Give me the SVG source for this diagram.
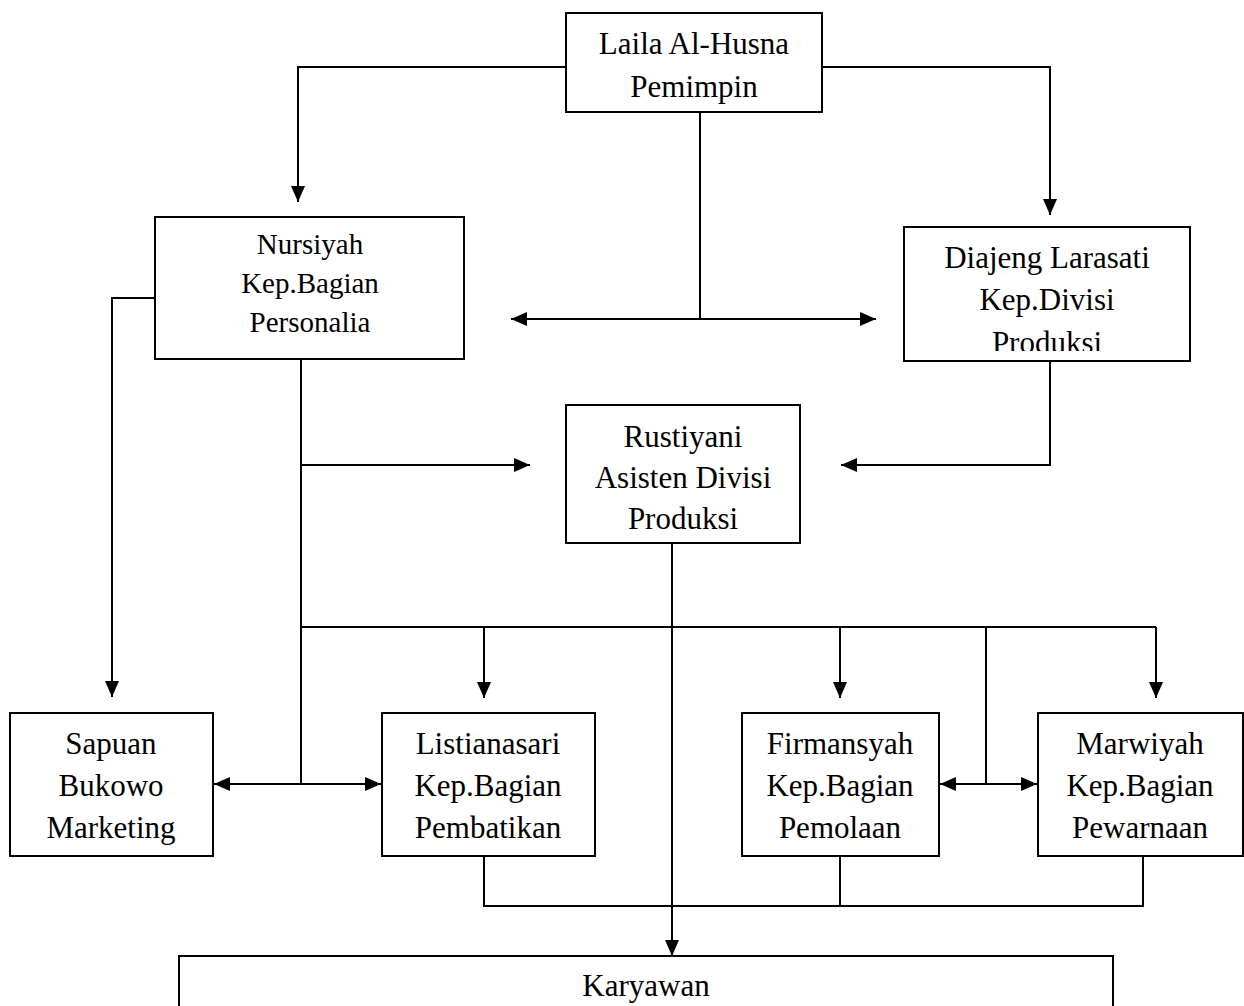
<svg xmlns="http://www.w3.org/2000/svg" width="1244" height="1006" viewBox="0 0 1244 1006">
<style>
.box{fill:#fff;stroke:#000;stroke-width:2}
.t{font-family:"Liberation Serif","Times New Roman",serif;font-size:31px;fill:#000;text-anchor:middle}
.s{font-size:29px}
.c{fill:none;stroke:#000;stroke-width:2}
</style>
<defs>
<marker id="ah" markerUnits="userSpaceOnUse" markerWidth="16" markerHeight="14" refX="16" refY="7" orient="auto-start-reverse">
<path d="M0,0 L16,7 L0,14 Z" fill="#000"/>
</marker>
<clipPath id="clipD"><rect x="904" y="227" width="286" height="124"/></clipPath>
</defs>
<rect width="1244" height="1006" fill="#fff"/>
<g id="connectors">
<polyline class="c" points="566,67 298,67 298,202" marker-end="url(#ah)"/>
<polyline class="c" points="822,67 1050,67 1050,215" marker-end="url(#ah)"/>
<line class="c" x1="700" y1="112" x2="700" y2="319"/>
<line class="c" x1="511" y1="319" x2="876" y2="319" marker-start="url(#ah)" marker-end="url(#ah)"/>
<polyline class="c" points="155,298 112,298 112,697" marker-end="url(#ah)"/>
<line class="c" x1="301" y1="359" x2="301" y2="784"/>
<line class="c" x1="301" y1="465" x2="530" y2="465" marker-end="url(#ah)"/>
<polyline class="c" points="1050,362 1050,465 841,465" marker-end="url(#ah)"/>
<line class="c" x1="301" y1="627" x2="1156" y2="627"/>
<line class="c" x1="484" y1="627" x2="484" y2="698" marker-end="url(#ah)"/>
<line class="c" x1="840" y1="627" x2="840" y2="698" marker-end="url(#ah)"/>
<line class="c" x1="1156" y1="627" x2="1156" y2="698" marker-end="url(#ah)"/>
<line class="c" x1="986" y1="627" x2="986" y2="784"/>
<line class="c" x1="940" y1="784" x2="1037" y2="784" marker-start="url(#ah)" marker-end="url(#ah)"/>
<line class="c" x1="214" y1="784" x2="381" y2="784" marker-start="url(#ah)" marker-end="url(#ah)"/>
<line class="c" x1="672" y1="543" x2="672" y2="956" marker-end="url(#ah)"/>
<polyline class="c" points="484,856 484,906 1143,906 1143,856"/>
<line class="c" x1="840" y1="856" x2="840" y2="906"/>
</g>
<g id="laila">
<rect class="box" x="566" y="13" width="256" height="99"/>
<text class="t" x="694" y="54">Laila Al-Husna</text>
<text class="t" x="694" y="97">Pemimpin</text>
</g>
<g id="nursiyah">
<rect class="box" x="155" y="217" width="309" height="142"/>
<text class="t s" x="310" y="254">Nursiyah</text>
<text class="t s" x="310" y="293">Kep.Bagian</text>
<text class="t s" x="310" y="332">Personalia</text>
</g>
<g id="diajeng">
<rect class="box" x="904" y="227" width="286" height="134"/>
<text class="t" x="1047" y="268">Diajeng Larasati</text>
<text class="t" x="1047" y="310">Kep.Divisi</text>
<text class="t" x="1047" y="353" clip-path="url(#clipD)">Produksi</text>
</g>
<g id="rustiyani">
<rect class="box" x="566" y="405" width="234" height="138"/>
<text class="t" x="683" y="447">Rustiyani</text>
<text class="t" x="683" y="488">Asisten Divisi</text>
<text class="t" x="683" y="529">Produksi</text>
</g>
<g id="sapuan">
<rect class="box" x="10" y="713" width="203" height="143"/>
<text class="t" x="111" y="754">Sapuan</text>
<text class="t" x="111" y="796">Bukowo</text>
<text class="t" x="111" y="838">Marketing</text>
</g>
<g id="listianasari">
<rect class="box" x="382" y="713" width="213" height="143"/>
<text class="t" x="488" y="754">Listianasari</text>
<text class="t" x="488" y="796">Kep.Bagian</text>
<text class="t" x="488" y="838">Pembatikan</text>
</g>
<g id="firmansyah">
<rect class="box" x="742" y="713" width="197" height="143"/>
<text class="t" x="840" y="754">Firmansyah</text>
<text class="t" x="840" y="796">Kep.Bagian</text>
<text class="t" x="840" y="838">Pemolaan</text>
</g>
<g id="marwiyah">
<rect class="box" x="1038" y="713" width="205" height="143"/>
<text class="t" x="1140" y="754">Marwiyah</text>
<text class="t" x="1140" y="796">Kep.Bagian</text>
<text class="t" x="1140" y="838">Pewarnaan</text>
</g>
<g id="karyawan">
<rect class="box" x="179" y="956" width="934" height="70"/>
<text class="t" x="646" y="996">Karyawan</text>
</g>
</svg>
